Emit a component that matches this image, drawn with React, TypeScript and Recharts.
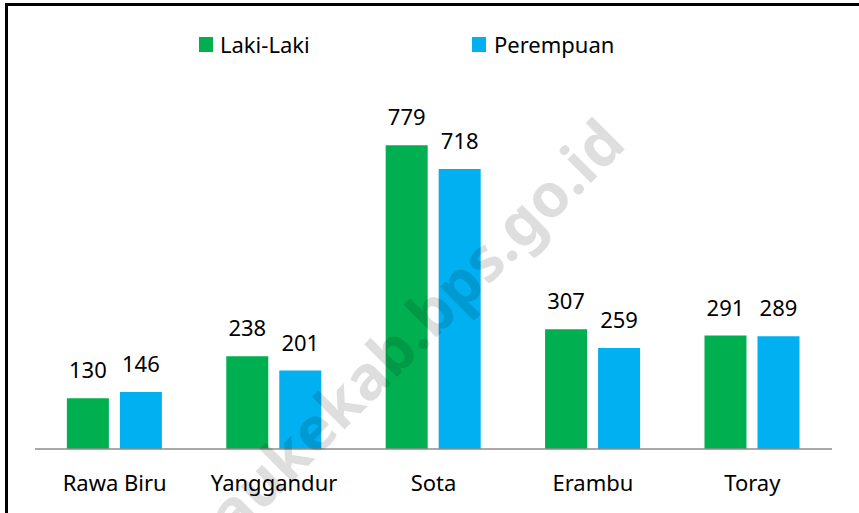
import { BarChart, Bar, XAxis, YAxis, LabelList } from "recharts";

const districts = ["Rawa Biru", "Yanggandur", "Sota", "Erambu", "Toray"];
const lakiLaki = [130, 238, 779, 307, 291];
const perempuan = [146, 201, 718, 259, 289];

const GREEN = "#00B050";
const BLUE = "#00B0F0";
const FONT = "'Noto Sans', 'Open Sans', sans-serif";

const data = districts.map((name, i) => ({
  name,
  laki: lakiLaki[i],
  perempuan: perempuan[i],
}));

const labelStyle = { fontSize: 22, fill: "#000", fontFamily: FONT };

export default function App() {
  return (
    <div
      style={{
        position: "absolute",
        left: 0,
        top: 0,
        width: 859,
        height: 513,
        overflow: "hidden",
        background: "#fff",
        fontFamily: FONT,
      }}
    >
      {/* frame, cut off at right and bottom like the source */}
      <div
        style={{
          position: "absolute",
          left: 5,
          top: 3,
          width: 900,
          height: 600,
          border: "3px solid #000",
        }}
      />

      <BarChart
        width={859}
        height={513}
        data={data}
        margin={{ top: 98, right: 27, left: 35, bottom: 0 }}
        barCategoryGap="20%"
        barGap={11}
      >
        <YAxis hide domain={[0, 900]} />
        <XAxis
          dataKey="name"
          height={64}
          axisLine={{ stroke: "#8c8c8c", strokeWidth: 1.5 }}
          tickLine={false}
          tickSize={0}
          tickMargin={26}
          tick={{ fontSize: 22, fill: "#000", fontFamily: FONT }}
        />
        <Bar dataKey="laki" fill={GREEN} isAnimationActive={false}>
          <LabelList dataKey="laki" position="top" offset={20} style={labelStyle} />
        </Bar>
        <Bar dataKey="perempuan" fill={BLUE} isAnimationActive={false}>
          <LabelList dataKey="perempuan" position="top" offset={20} style={labelStyle} />
        </Bar>
      </BarChart>

      {/* legend */}
      <div
        style={{
          position: "absolute",
          top: 29,
          left: 199,
          height: 30,
          width: 460,
          fontSize: 22,
          color: "#000",
        }}
      >
        <span style={{ position: "absolute", left: 0, top: 8, width: 14, height: 15, background: GREEN }} />
        <span style={{ position: "absolute", left: 21, top: 0, whiteSpace: "nowrap" }}>Laki-Laki</span>
        <span style={{ position: "absolute", left: 273, top: 8, width: 14, height: 15, background: BLUE }} />
        <span style={{ position: "absolute", left: 295, top: 0, whiteSpace: "nowrap" }}>Perempuan</span>
      </div>

      {/* watermark */}
      <svg
        width={859}
        height={513}
        style={{ position: "absolute", left: 0, top: 0, pointerEvents: "none" }}
      >
        <text
          x={628}
          y={146}
          textAnchor="end"
          transform="rotate(-45 628 146)"
          fontSize={61}
          fontWeight={700}
          fontFamily={FONT}
          fill="rgba(0,0,0,0.13)"
        >
          meraukekab.bps.go.id
        </text>
      </svg>
    </div>
  );
}
